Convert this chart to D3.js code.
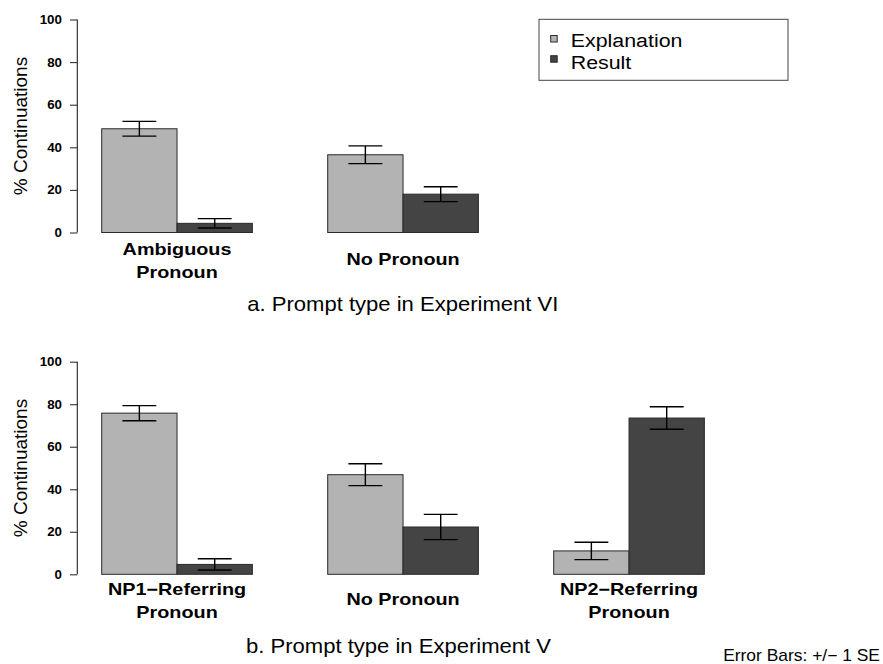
<!DOCTYPE html>
<html><head><meta charset="utf-8">
<script src="https://cdn.jsdelivr.net/npm/d3@7"></script>
<style>body{margin:0;background:#fff}svg{display:block}</style>
</head><body>
<script>
// ---- data ----
const seriesNames = ["Explanation", "Result"];
const topCategories = [["Ambiguous", "Pronoun"], ["No Pronoun"]];
const topExplanation = [48.7, 36.5];
const topResult = [4.3, 18.0];
const topExplanationSE = [3.45, 4.15];
const topResultSE = [2.2, 3.5];
const bottomCategories = [["NP1\u2212Referring", "Pronoun"], ["No Pronoun"], ["NP2\u2212Referring", "Pronoun"]];
const bottomExplanation = [75.8, 46.85, 11.0];
const bottomResult = [4.65, 22.25, 73.5];
const bottomExplanationSE = [3.55, 5.15, 4.1];
const bottomResultSE = [2.65, 5.95, 5.3];
const yTicks = [0, 20, 40, 60, 80, 100];
const yLabel = "% Continuations";
const titleA = "a. Prompt type in Experiment VI";
const titleB = "b. Prompt type in Experiment V";
const noteText = "Error Bars: +/\u2212 1 SE";

const W = 883, H = 664;
const FONT = "'Liberation Sans', Arial, Helvetica, sans-serif";
const colors = ["#b3b3b3", "#444444"];

const svg = d3.select("body").append("svg").attr("width", W).attr("height", H);

function txt(g, x, y, s, o) {
  o = o || {};
  const t = g.append("text")
    .attr("transform", `translate(${x},${y})` + (o.rotate ? ` rotate(${o.rotate})` : "") + ` scale(${o.sx || 1},1)`)
    .attr("font-family", FONT)
    .attr("font-size", o.size || 12)
    .attr("font-weight", o.weight || "normal")
    .attr("text-anchor", o.anchor || "middle")
    .attr("fill", "#000")
    .text(s);
  if (o.dy) t.attr("dy", o.dy);
  return t;
}

// x in barplot units (R-like): group i starts at 1+3i, each bar 1 unit wide
const x = d3.scaleLinear().domain([1, 4]).range([101.7, 327.7]);
const capHalf = 0.225;

function panel(y0, y100, cats, exp, res, expSE, resSE, labelBaselines) {
  const y = d3.scaleLinear().domain([0, 100]).range([y0, y100]);
  const g = svg.append("g");
  // axis
  const ax = g.append("g").attr("transform", "translate(77.3,0)")
    .call(d3.axisLeft(y).tickValues(yTicks).tickSize(7.3).tickFormat(() => ""));
  ax.select(".domain").attr("stroke", "#222").attr("stroke-width", 1.1).attr("d", `M0,${y(0)}V${y(100)}`);
  ax.selectAll(".tick line").attr("stroke", "#333").attr("stroke-width", 1.1);
  yTicks.forEach(v => txt(g, 62, y(v), String(v), {size: 12.5, weight: "bold", anchor: "end", sx: 1.07, dy: "0.36em"}));
  txt(g, 26.5, (y(0) + y(100)) / 2, yLabel, {size: 19, rotate: -90});

  const data = [];
  cats.forEach((c, i) => {
    data.push({i, j: 0, v: exp[i], se: expSE[i]});
    data.push({i, j: 1, v: res[i], se: resSE[i]});
  });
  g.selectAll("rect.bar").data(data).enter().append("rect")
    .attr("x", d => x(1 + 3 * d.i + d.j))
    .attr("width", d => x(2 + 3 * d.i + d.j) - x(1 + 3 * d.i + d.j))
    .attr("y", d => y(d.v))
    .attr("height", d => y(0) - y(d.v))
    .attr("fill", d => colors[d.j])
    .attr("stroke", "#2a2a2a").attr("stroke-width", 1);
  const eb = g.selectAll("g.eb").data(data).enter().append("g").attr("stroke", "#000").attr("stroke-width", 1.4);
  eb.append("line")
    .attr("x1", d => x(1.5 + 3 * d.i + d.j)).attr("x2", d => x(1.5 + 3 * d.i + d.j))
    .attr("y1", d => y(d.v + d.se)).attr("y2", d => y(d.v - d.se));
  [1, -1].forEach(sg => {
    eb.append("line")
      .attr("x1", d => x(1.5 - capHalf + 3 * d.i + d.j)).attr("x2", d => x(1.5 + capHalf + 3 * d.i + d.j))
      .attr("y1", d => y(d.v + sg * d.se)).attr("y2", d => y(d.v + sg * d.se));
  });
  // category labels
  cats.forEach((c, i) => {
    const cx = x(2 + 3 * i);
    if (c.length === 2) {
      txt(g, cx, labelBaselines[0], c[0], {size: 16.5, weight: "bold", sx: 1.2});
      txt(g, cx, labelBaselines[1], c[1], {size: 16.5, weight: "bold", sx: 1.2});
    } else {
      txt(g, cx, (labelBaselines[0] + labelBaselines[1]) / 2 - 1, c[0], {size: 16.5, weight: "bold", sx: 1.2});
    }
  });
  return g;
}

panel(232.5, 19.5, topCategories, topExplanation, topResult, topExplanationSE, topResultSE, [255, 277.7]);
panel(574.3, 361.7, bottomCategories, bottomExplanation, bottomResult, bottomExplanationSE, bottomResultSE, [595, 617.7]);

txt(svg, 402.8, 311, titleA, {size: 21, sx: 1.05});
txt(svg, 398.5, 652.5, titleB, {size: 21, sx: 1.05});
txt(svg, 880, 660.5, noteText, {size: 16, sx: 1.09, anchor: "end"});

// legend
const lg = svg.append("g");
lg.append("rect").attr("x", 539).attr("y", 19.3).attr("width", 249).attr("height", 61)
  .attr("fill", "#fff").attr("stroke", "#444").attr("stroke-width", 1);
seriesNames.forEach((s, k) => {
  const by = [46.7, 69][k];
  lg.append("rect").attr("x", 550.7).attr("y", [35.5, 55.7][k]).attr("width", 6.5).attr("height", 6.5)
    .attr("fill", colors[k]).attr("stroke", "#2a2a2a").attr("stroke-width", 1);
  txt(lg, 570.7, by, s, {size: 18.6, sx: 1.15, anchor: "start"});
});
</script>
</body></html>
